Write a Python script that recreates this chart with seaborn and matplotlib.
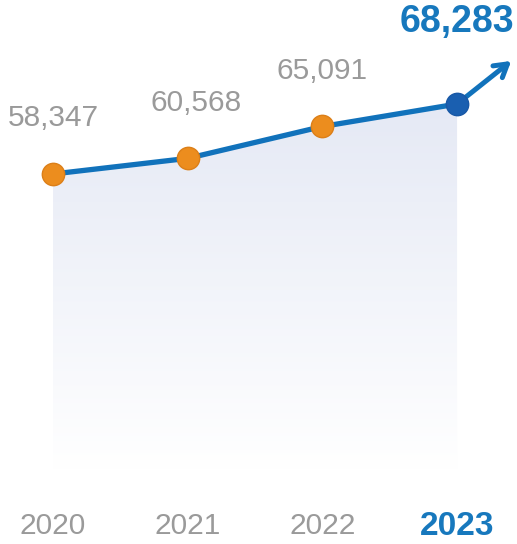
import numpy as np
import pandas as pd
import matplotlib
matplotlib.use("Agg")
import matplotlib.pyplot as plt
import seaborn as sns

years = ["2020", "2021", "2022", "2023"]
visitors = [58347, 60568, 65091, 68283]

df = pd.DataFrame({"pos": np.arange(len(years)), "year": years, "value": visitors})

sns.set_theme(style="white")
plt.rcParams["font.family"] = ["Liberation Sans", "DejaVu Sans"]

LINE = "#1172bb"
ORANGE = "#ec8d1e"
LAST = "#1a5fb0"
GREY = "#9a9a9a"
HILITE = "#1778bd"

fig = plt.figure(figsize=(5.17, 5.44), dpi=100)
ax = fig.add_axes([0, 39 / 544, 1, 505 / 544])
ax.set_xlim(-0.394, 3.445)
ax.set_ylim(11363, 83045)
ax.axis("off")

# gradient area under the line
fill_floor = 16331
poly = ax.fill_between(df["pos"], df["value"], fill_floor, color="none", lw=0)
grad = np.linspace(0, 1, 256).reshape(-1, 1)
top_c = np.array([0.898, 0.914, 0.960])
bot_c = np.array([1.0, 1.0, 1.0])
img = top_c * (1 - grad) + bot_c * grad
img = img.reshape(256, 1, 3)
im = ax.imshow(img, extent=[df["pos"].min(), df["pos"].max(), fill_floor, max(visitors)],
               origin="upper", aspect="auto", zorder=1)
path = poly.get_paths()[0]
im.set_clip_path(path, transform=ax.transData)

sns.lineplot(data=df, x="pos", y="value", color=LINE, lw=3.8, ax=ax, zorder=3,
             solid_capstyle="round")

# trend arrow leaving the last point (open head)
ax.annotate("", xy=(df["pos"].iloc[-1], df["value"].iloc[-1]), xycoords="data",
            xytext=(39, 31), textcoords="offset points",
            arrowprops=dict(arrowstyle="<-,head_length=0.75,head_width=0.45", color=LINE, lw=3.6,
                            shrinkA=0, shrinkB=0, capstyle="round", joinstyle="round"),
            zorder=3)

sns.scatterplot(data=df.iloc[:-1], x="pos", y="value", s=260, color=ORANGE,
                edgecolor="#dc7f18", linewidth=1, ax=ax, zorder=4)
sns.scatterplot(data=df.iloc[-1:], x="pos", y="value", s=260, color=LAST,
                edgecolor="#1858a6", linewidth=1, ax=ax, zorder=4)

label_dx = [0, 6, 0, 0]
for i, (p, v) in enumerate(zip(df["pos"], df["value"])):
    last = i == len(years) - 1
    ax.annotate(f"{v:,}", xy=(p, v), xytext=(label_dx[i], 59 if last else 40),
                textcoords="offset points", ha="center", va="center",
                fontsize=27 if last else 21.5,
                fontweight="bold" if last else "normal",
                color=HILITE if last else GREY)
    ax.text(p, -0.042, years[i], transform=ax.get_xaxis_transform(),
            ha="center", va="center",
            fontsize=24 if last else 21.5,
            fontweight="bold" if last else "normal",
            color=HILITE if last else GREY)

fig.savefig("out.png", dpi=100, facecolor="white")
